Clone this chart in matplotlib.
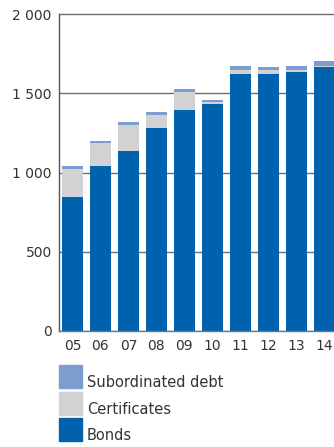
import matplotlib
matplotlib.use("Agg")
import matplotlib.pyplot as plt
from matplotlib.patches import Rectangle
import numpy as np

years = ["05", "06", "07", "08", "09", "10", "11", "12", "13", "14"]
bonds = [845, 1040, 1135, 1280, 1395, 1433, 1620, 1620, 1635, 1665]
certificates = [178, 147, 165, 82, 114, 13, 26, 26, 13, 6]
subordinated = [19, 12, 19, 19, 19, 14, 25, 19, 25, 32]
y_ticks = [0, 500, 1000, 1500, 2000]
y_tick_labels = ["0", "500", "1 000", "1 500", "2 000"]

series = [
    ("Subordinated debt", subordinated, "#7c9dd0"),
    ("Certificates", certificates, "#d1d2d4"),
    ("Bonds", bonds, "#0061ad"),
]

W, H = 334, 447
fig = plt.figure(figsize=(W / 100, H / 100), dpi=100)
plt.rcParams["font.family"] = ["DejaVu Sans"]

px_per_unit = 0.1584
y_top = 2015
x_left, x_right = -0.49, 9.6
ax_left_px, ax_bottom_px = 58.7, 331
ax = fig.add_axes([ax_left_px / W, (H - ax_bottom_px) / H,
                   (x_right - x_left) * 28 / W, y_top * px_per_unit / H])

x = np.arange(len(years))
bottom = np.zeros(len(years))
for name, vals, color in reversed(series):
    ax.bar(x, vals, width=0.75, bottom=bottom, color=color, zorder=2, linewidth=0)
    bottom += np.array(vals)

ax.set_xlim(x_left, x_right)
ax.set_ylim(0, y_top)
ax.set_yticks(y_ticks)
ax.set_yticklabels(y_tick_labels)
ax.set_xticks(x)
ax.set_xticklabels(years)
ax.tick_params(axis="both", length=0, labelsize=10, colors="#333333")
ax.tick_params(axis="y", pad=5)
ax.tick_params(axis="x", pad=6)
ax.yaxis.grid(True, color="#6e6e6e", linewidth=1.0, zorder=1)
ax.set_axisbelow(True)
for s in ["top", "right"]:
    ax.spines[s].set_visible(False)
ax.spines["left"].set_bounds(0, 2000)
ax.spines["left"].set_color("#555555")
ax.spines["bottom"].set_color("#777777")
ax.spines["left"].set_linewidth(1.0)
ax.spines["bottom"].set_linewidth(1.0)

# legend drawn as swatches with labels beneath the axes
row_tops = [365, 392, 418]
for (name, vals, color), top in zip(series, row_tops):
    fig.patches.append(Rectangle((59 / W, (H - top - 23) / H), 23 / W, 23 / H,
                                 transform=fig.transFigure, color=color))
    fig.text(87 / W, (H - top - 22) / H, name, fontsize=10.5, color="#333333",
             va="baseline", ha="left")

fig.savefig("out.png", dpi=100)
